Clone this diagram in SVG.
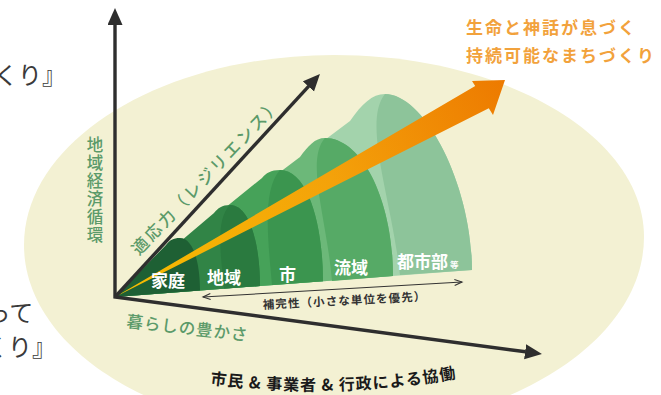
<svg xmlns="http://www.w3.org/2000/svg" width="661" height="395" viewBox="0 0 661 395">
  <defs>
    <style>
      .jp { font-family: 'Noto Sans CJK JP', 'Noto Sans', sans-serif; }
      .cut { font-size: 24px; fill: #3a3a3a; }
      .green-label { font-size: 16.5px; fill: #5b9a69; font-weight: 500; }
      .band-label { font-size: 17px; fill: #ffffff; font-weight: bold; }
      .axis { fill: none; stroke: #2e2e2e; stroke-width: 3.4; stroke-linejoin: miter; }
      .goal { font-size: 17px; fill: #f2a23c; font-weight: bold; letter-spacing: 2px; }
      .vertical { writing-mode: vertical-rl; text-orientation: upright; }
    </style>
    <marker id="head" markerUnits="userSpaceOnUse" markerWidth="18" markerHeight="16" refX="0.5" refY="7.5" orient="auto-start-reverse" viewBox="0 0 18 16">
      <path d="M0,0 L17,7.5 L0,15 z" fill="#2e2e2e"/>
    </marker>
    <marker id="open" markerUnits="userSpaceOnUse" markerWidth="10" markerHeight="8" refX="8" refY="3.5" orient="auto-start-reverse" viewBox="0 0 10 8">
      <path d="M0.5,0.5 L8,3.5 L0.5,6.5" fill="none" stroke="#333333" stroke-width="1.1"/>
    </marker>
    <linearGradient id="arrowGrad" gradientUnits="userSpaceOnUse" x1="115" y1="297" x2="505" y2="80">
      <stop offset="0" stop-color="#f7bd00"/>
      <stop offset="0.55" stop-color="#f4a20a"/>
      <stop offset="1" stop-color="#ed7a00"/>
    </linearGradient>
    <path id="arcPath" d="M 210 384 Q 333 400 458 378"/>
  </defs>

  <rect width="661" height="395" fill="#ffffff"/>

  <!-- background ellipse -->
  <path id="field" d="M 24 245 C 24 140 163 55 334 55 C 505 55 644 136 644 237 C 644 345 499 432 320 432 C 157 432 24 348 24 245 Z" fill="#f3f1d3"/>

  <!-- cut-off texts at left edge -->
  <text class="jp cut" x="-6" y="84">くり』</text>
  <text class="jp cut" x="-13.5" y="322">って</text>
  <text class="jp cut" x="-16" y="356">くり』</text>

  <!-- cone bands (outer first) -->
  <g id="band-toshibu">
    <path d="M 115 297 L 350 121 C 362 104 372 94 385 94 C 425 94 472 185 472 270 Z" fill="#a3d3ac"/>
    <path d="M 385 94 C 425 94 472 185 472 270 L 400 275 C 392 200 362 122 385 94 Z" fill="#8dc49a"/>
  </g>
  <g id="band-ryuiki">
    <path d="M 115 297 L 300 157 C 308 146 315 138 325 138 C 362 138 393 200 393 276 Z" fill="#6cb879"/>
    <path d="M 325 138 C 362 138 393 200 393 276 L 332 281 C 327 220 305 160 325 138 Z" fill="#56aa66"/>
  </g>
  <g id="band-shi">
    <path d="M 115 297 L 262 178 C 266 173 271 170 280 170 C 308 170 323 225 323 281.3 Z" fill="#46a259"/>
    <path d="M 280 170 C 308 170 323 225 323 281.3 L 272 285 C 268 240 262 190 280 170 Z" fill="#3b954f"/>
  </g>
  <g id="band-chiiki">
    <path d="M 115 297 L 214 213 C 218 208 222 205 230 205 C 250 205 260 245 260 286 Z" fill="#318446"/>
    <path d="M 230 205 C 250 205 260 245 260 286 L 224 288.6 C 221 255 215 220 230 205 Z" fill="#2a7a3f"/>
  </g>
  <g id="band-katei">
    <path d="M 115 297 L 166 245 C 170 240 173 238 180 238 C 193 238 200 262 200 290.6 Z" fill="#1e6034"/>
  </g>

  <!-- big arrow -->
  <g id="goal-arrow">
    <path d="M 115 297 L 475.2 86.1 L 472 81 L 505 80 L 493 115 L 488.8 108.2 Z" fill="url(#arrowGrad)"/>
  </g>

  <!-- band labels -->
  <g id="labels">
    <text class="jp band-label" x="151" y="287">家庭</text>
    <text class="jp band-label" x="207" y="284">地域</text>
    <text class="jp band-label" x="279" y="281">市</text>
    <text class="jp band-label" x="334" y="274">流域</text>
    <text class="jp band-label" x="397" y="268">都市部<tspan font-size="8.5" dx="2">等</tspan></text>
  </g>

  <!-- connectors: axes -->
  <g id="connectors">
    <path class="axis" d="M 115 24.5 L 115 297 L 525.6 351.8" marker-start="url(#head)" marker-end="url(#head)"/>
    <line class="axis" stroke-width="3" x1="115" y1="297" x2="308.8" y2="86.1" marker-end="url(#head)"/>
    <line x1="203" y1="297" x2="462" y2="282" stroke="#333333" stroke-width="1.1" marker-start="url(#open)" marker-end="url(#open)"/>
  </g>

  <!-- axis labels -->
  <g id="axis-labels">
    <text class="jp green-label vertical" font-size="15.5" letter-spacing="1.6" x="95" y="136">地域経済循環</text>
    <text class="jp green-label" font-size="17" letter-spacing="2.5" transform="translate(139,256) rotate(-46.5)">適応力（レジリエンス）</text>
    <text class="jp green-label" font-size="17" letter-spacing="1" transform="translate(126,327) rotate(6.5)">暮らしの豊かさ</text>
    <text class="jp" font-size="11.5" font-weight="bold" fill="#333333" letter-spacing="1.1" transform="translate(263,309) rotate(-3)">補完性（小さな単位を優先）</text>
    <text class="jp" font-size="16" font-weight="bold" fill="#1a1a1a" letter-spacing="1"><textPath href="#arcPath">市民 &amp; 事業者 &amp; 行政による協働</textPath></text>
  </g>

  <!-- goal text -->
  <g id="goal-text">
    <text class="jp goal" x="466" y="34">生命と神話が息づく</text>
    <text class="jp goal" x="466" y="62">持続可能なまちづくり</text>
  </g>
</svg>
